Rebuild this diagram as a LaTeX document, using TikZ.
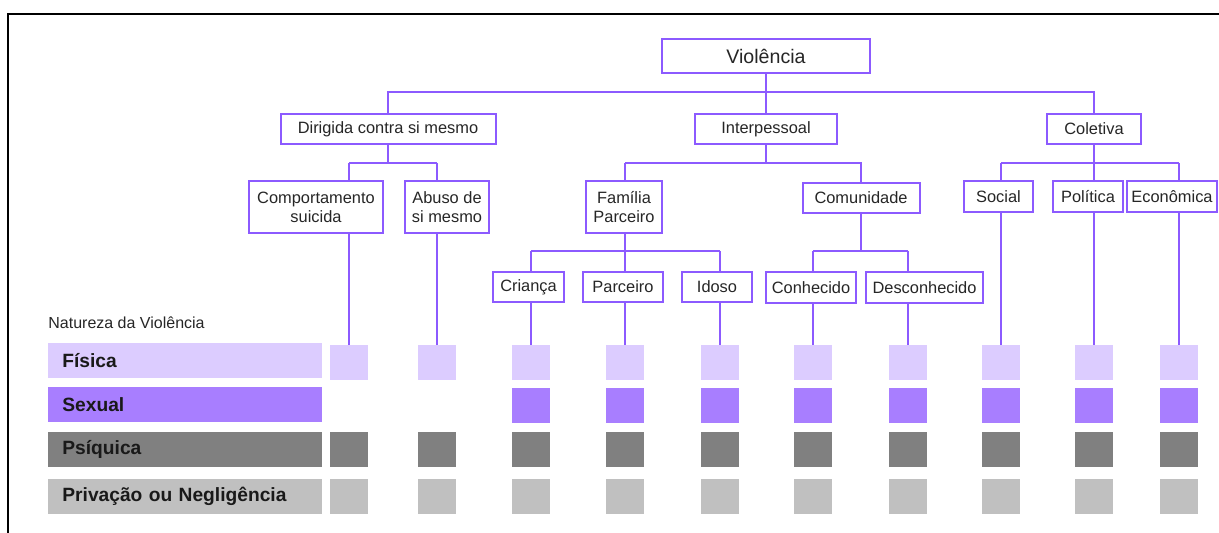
\documentclass[tikz,border=0pt]{standalone}
\usepackage{fontspec}
\setmainfont{Liberation Sans}
\usepackage{tikz}
\usetikzlibrary{calc,positioning,backgrounds}
\definecolor{vline}{RGB}{140,90,255}
\definecolor{fisica}{RGB}{220,204,255}
\definecolor{sexual}{RGB}{168,126,255}
\definecolor{psiquica}{RGB}{128,128,128}
\definecolor{privacao}{RGB}{192,192,192}
\tikzstyle{box}   = [draw=vline, line width=1pt, fill=white, inner sep=0pt, align=center, text=black!85, font=\fontsize{8.2}{9.5}\selectfont]
\tikzstyle{conn}  = [draw=vline, line width=1pt]
\tikzstyle{bar}   = [anchor=west, inner xsep=7pt, inner ysep=0pt, text width=123pt, align=left, minimum height=17.5pt, text=black!90, font=\fontsize{9.6}{11}\selectfont\bfseries]
\tikzstyle{cell}  = [minimum width=19pt, minimum height=17.5pt, inner sep=0pt]

\begin{document}
\begin{tikzpicture}[x=0.5pt,y=-0.5pt]
    \useasboundingbox (0,0) rectangle (1219,533);
    \draw[line width=1pt] (8,533) -- (8,14) -- (1219,14);

    % arvore
    \node[box, minimum width=104pt, minimum height=17pt, font=\fontsize{9.8}{11}\selectfont] (viol) at (766,56) {Violência};
    \node[box, minimum width=107.5pt, minimum height=15pt] (dir) at (388,129) {Dirigida contra si mesmo};
    \node[box, minimum width=71pt, minimum height=15pt] (inter) at (766,129) {Interpessoal};
    \node[box, minimum width=47pt, minimum height=15pt] (colet) at (1094,129) {Coletiva};
    \node[box, minimum width=67pt, minimum height=26pt] (comp) at (316,207) {Comportamento\\suicida};
    \node[box, minimum width=42pt, minimum height=26pt] (abuso) at (447,207) {Abuso de\\si mesmo};
    \node[box, minimum width=38pt, minimum height=26pt] (fam) at (624,207) {Família\\Parceiro};
    \node[box, minimum width=58.5pt, minimum height=15pt] (comun) at (861,198) {Comunidade};
    \node[box, minimum width=34.5pt, minimum height=15.5pt] (social) at (998.5,196.5) {Social};
    \node[box, minimum width=35pt, minimum height=15.5pt] (pol) at (1088,196.5) {Política};
    \node[box, minimum width=45pt, minimum height=15.5pt] (econ) at (1172,196.5) {Econômica};
    \node[box, minimum width=35.5pt, minimum height=15pt] (crianca) at (528.5,287) {Criança};
    \node[box, minimum width=40pt, minimum height=15pt] (parc) at (623,287) {Parceiro};
    \node[box, minimum width=35pt, minimum height=15pt] (idoso) at (717,287) {Idoso};
    \node[box, minimum width=45pt, minimum height=15.5pt] (conhec) at (811,287.5) {Conhecido};
    \node[box, minimum width=58.5pt, minimum height=15.5pt] (desc) at (924.5,287.5) {Desconhecido};

    % natureza
    \node[anchor=west, inner sep=0pt, text=black!85, font=\fontsize{8}{9}\selectfont] (nat) at (48,323) {Natureza da Violência};
    \node[bar, fill=fisica] (fis) at (48,360.5) {Física};
    \node[bar, fill=sexual] (sex) at (48,404.5) {Sexual};
    \node[bar, fill=psiquica] (psi) at (48,449.5) {Psíquica};
    \node[bar, fill=privacao] (pri) at (48,496) {Privação ou Negligência};

    \foreach \x [count=\i] in {349,437,531,625,720,813,908,1001,1094,1179} {
        \node[cell, fill=fisica] (f\i) at (\x,363) {};
        \ifnum\i>2 \node[cell, fill=sexual] (s\i) at (\x,406) {}; \fi
        \node[cell, fill=psiquica] (p\i) at (\x,449.5) {};
        \node[cell, fill=privacao] (n\i) at (\x,496) {};
    }

    \coordinate (h1) at (0,92);
    \coordinate (h2) at (0,163);
    \coordinate (h3) at (0,251);

    \begin{scope}[on background layer]
        \draw[conn] (viol.south) -- (inter.north);
        \draw[conn] (dir.north) |- (h1 -| colet.north) -- (colet.north);
        \draw[conn] (dir.south) -- (dir.south |- h2);
        \draw[conn] (f1.north |- h2) -- (f2.north |- h2);
        \draw[conn] (inter.south) -- (inter.south |- h2);
        \draw[conn] (f4.north |- h2) -- (comun.north |- h2) -- (comun.north);
        \draw[conn] (comun.south) -- (comun.south |- h3);
        \draw[conn] (f3.north |- h3) -- (f5.north |- h3);
        \draw[conn] (f6.north |- h3) -- (f7.north |- h3);
        \draw[conn] (colet.south) -- (colet.south |- h2);
        \draw[conn] (f8.north |- h2) -- (f10.north |- h2);
        \foreach \i/\h in {1/h2,2/h2,3/h3,4/h2,5/h3,6/h3,7/h3,8/h2,9/h2,10/h2}
            \draw[conn] (f\i.north |- \h) -- (f\i.north);
    \end{scope}
\end{tikzpicture}
\end{document}
